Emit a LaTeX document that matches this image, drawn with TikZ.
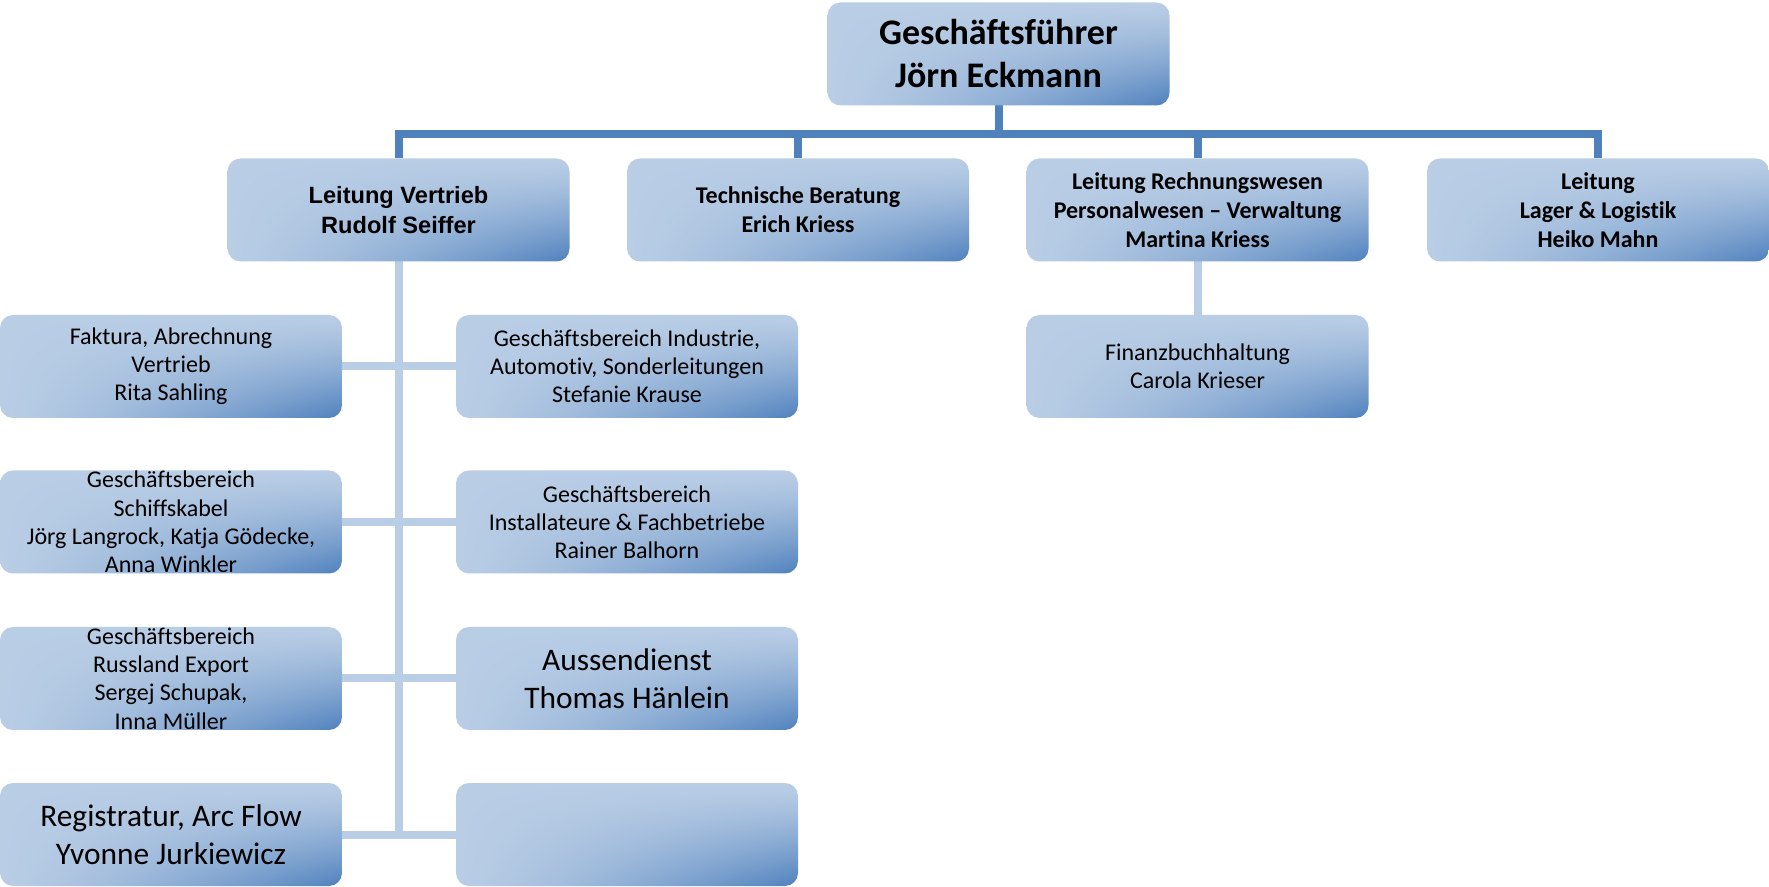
\documentclass[tikz,border=0pt]{standalone}
\usepackage{fontspec}
\setmainfont{Carlito}[Ligatures=NoCommon]
\newfontfamily\arialfont{Liberation Sans}
\definecolor{ltblue}{RGB}{185,205,229}
\definecolor{dkblue}{RGB}{79,129,189}
\pgfdeclarelayer{bg}
\pgfsetlayers{bg,main}
\pgfdeclarefunctionalshading{boxgrad}{\pgfpoint{-50bp}{-50bp}}{\pgfpoint{50bp}{50bp}}{}{
 neg 25 add 50 div
 exch 25 add 50 div
 mul abs 1.3 exp
 dup -0.4157 mul 0.7255 add
 exch
 dup -0.2980 mul 0.8039 add
 exch
 -0.1569 mul 0.898 add
}
\tikzset{
 box/.style={shade, shading=boxgrad, rounded corners=6.5pt, minimum width=171pt, minimum height=51.5pt, inner sep=0pt, outer sep=0pt, align=center, text=black},
 dconn/.style={draw=dkblue, line width=4pt},
 lconn/.style={draw=ltblue, line width=4pt},
 bigb/.style={font=\fontsize{18}{21.5}\selectfont\bfseries},
 midb/.style={font=\fontsize{12}{14.5}\selectfont\bfseries},
 arialb/.style={font=\arialfont\fontsize{11.8}{14.6}\selectfont\bfseries},
 reg/.style={font=\fontsize{12}{14.1}\selectfont},
 big/.style={font=\fontsize{15.7}{19.2}\selectfont},
}
\begin{document}
\begin{tikzpicture}[x=0.5pt,y=-0.5pt]
\useasboundingbox (0,0) rectangle (1769,887);
% level 1
\node[box,bigb] (top) at (998.5,54) {Geschäftsführer\\Jörn Eckmann};
% level 2
\node[box,arialb] (lv) at (398.5,210) {Leitung Vertrieb\\Rudolf Seiffer};
\node[box,midb] (tb) at (798,210) {Technische Beratung\\Erich Kriess};
\node[box,midb] (lr) at (1197.5,210) {Leitung Rechnungswesen\\Personalwesen – Verwaltung\\Martina Kriess};
\node[box,midb] (ll) at (1598,210) {Leitung\\Lager \& Logistik\\Heiko Mahn};
% level 3
\node[box,reg] (fa) at (171,366.5) {Faktura, Abrechnung\\Vertrieb\\Rita Sahling};
\node[box,reg] (gi) at (627,366.5) {Geschäftsbereich Industrie,\\Automotiv, Sonderleitungen\\Stefanie Krause};
\node[box,reg] (gs) at (171,522) {Geschäftsbereich\\Schiffskabel\\Jörg Langrock, Katja Gödecke,\\Anna Winkler};
\node[box,reg] (gf) at (627,522) {Geschäftsbereich\\Installateure \& Fachbetriebe\\Rainer Balhorn};
\node[box,reg] (gr) at (171,678.5) {Geschäftsbereich\\Russland Export\\Sergej Schupak,\\Inna Müller};
\node[box,big] (ad) at (627,678.5) {Aussendienst\\Thomas Hänlein};
\node[box,big] (rg) at (171,834.5) {Registratur, Arc Flow\\Yvonne Jurkiewicz};
\node[box] (em) at (627,834.5) {};
\node[box,reg] (fb) at (1197.5,366.5) {Finanzbuchhaltung\\Carola Krieser};
\coordinate (bar) at (998.5,134);
\begin{pgfonlayer}{bg}
\draw[dconn] (top.south) -- (bar);
\draw[dconn] (lv.north) |- (bar) -| (ll.north);
\draw[dconn] (tb.north) -- (tb.north |- bar);
\draw[dconn] (lr.north) -- (lr.north |- bar);
\draw[lconn] (lv.south) -- (lv.south |- rg.east);
\draw[lconn] (fa.east) -- (gi.west);
\draw[lconn] (gs.east) -- (gf.west);
\draw[lconn] (gr.east) -- (ad.west);
\draw[lconn] (rg.east) -- (em.west);
\draw[lconn] (lr.south) -- (fb.north);
\end{pgfonlayer}
\end{tikzpicture}
\end{document}
